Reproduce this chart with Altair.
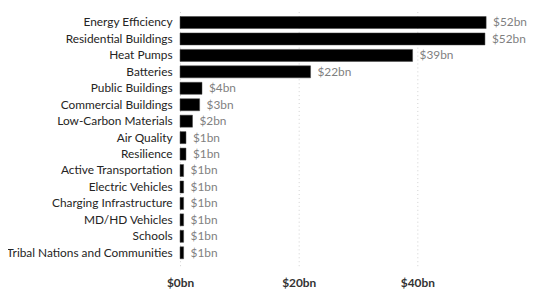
import altair as alt
import pandas as pd

categories = ["Energy Efficiency", "Residential Buildings", "Heat Pumps", "Batteries",
              "Public Buildings", "Commercial Buildings", "Low-Carbon Materials",
              "Air Quality", "Resilience", "Active Transportation", "Electric Vehicles",
              "Charging Infrastructure", "MD/HD Vehicles", "Schools",
              "Tribal Nations and Communities"]
values = [51.6, 51.4, 39.2, 22.0, 3.7, 3.3, 2.1, 1.0, 1.0, 0.6, 0.6, 0.6, 0.6, 0.6, 0.6]
value_labels = ["$52bn", "$52bn", "$39bn", "$22bn", "$4bn", "$3bn", "$2bn",
                "$1bn", "$1bn", "$1bn", "$1bn", "$1bn", "$1bn", "$1bn", "$1bn"]
x_ticks = [0, 20, 40]

df = pd.DataFrame({"category": categories, "value": values, "label": value_labels})

FONT = "Lato"

x = alt.X("value:Q",
          scale=alt.Scale(domain=[0, 56], nice=False, zero=True),
          axis=alt.Axis(values=x_ticks, labelExpr="'$' + datum.value + 'bn'",
                        title=None, domain=False, ticks=False, grid=True,
                        gridColor="#d0d0d0", gridDash=[1, 3], gridWidth=1,
                        labelFlush=False,
                        labelPadding=12, labelFontSize=12, labelColor="#333333",
                        labelFont=FONT, labelFontWeight="bold"))
y = alt.Y("category:N", sort=None,
          scale=alt.Scale(paddingInner=0.27, paddingOuter=0.42),
          axis=alt.Axis(title=None, domain=False, ticks=False, grid=False,
                        labelPadding=8, labelFontSize=12, labelColor="#252423",
                        labelFont=FONT, labelLimit=300))

bars = alt.Chart(df).mark_bar(color="#000000", stroke="#444444", strokeWidth=0.5).encode(x=x, y=y)
text = alt.Chart(df).mark_text(align="left", baseline="middle", dx=7, fontSize=12,
                               color="#7f7f7f", font=FONT).encode(
    x="value:Q", y=alt.Y("category:N", sort=None), text="label:N")

chart = (bars + text).properties(
    width=336, height=259,
    autosize=alt.AutoSizeParams(type="none"),
    padding={"left": 174, "top": 0, "right": 22, "bottom": 24},
).configure_view(stroke=None)

chart.save("out.html", embed_options={"renderer": "svg", "actions": False})
